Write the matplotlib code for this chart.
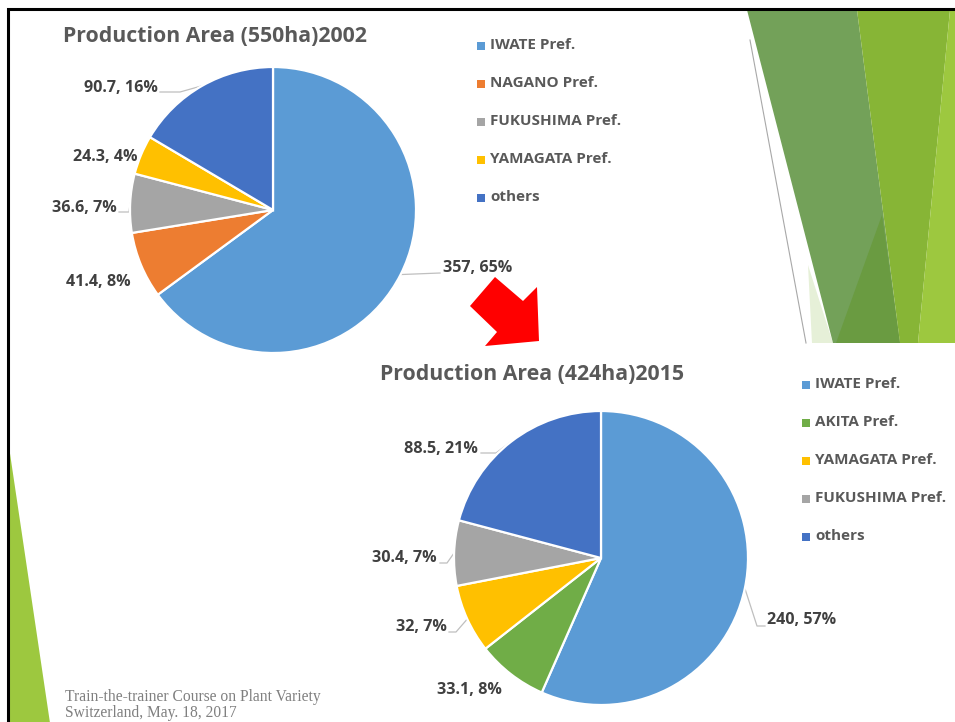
import numpy as np
import matplotlib
matplotlib.use("Agg")
import matplotlib.pyplot as plt
from matplotlib.patches import Polygon

# ---------------- data ----------------
title_2002 = "Production Area (550ha)2002"
cats_2002 = ["IWATE Pref.", "NAGANO Pref.", "FUKUSHIMA Pref.", "YAMAGATA Pref.", "others"]
vals_2002 = [357, 41.4, 36.6, 24.3, 90.7]
pcts_2002 = ["65%", "8%", "7%", "4%", "16%"]

title_2015 = "Production Area (424ha)2015"
cats_2015 = ["IWATE Pref.", "AKITA Pref.", "YAMAGATA Pref.", "FUKUSHIMA Pref.", "others"]
vals_2015 = [240, 33.1, 32, 30.4, 88.5]
pcts_2015 = ["57%", "8%", "7%", "7%", "21%"]

footer_lines = ["Train-the-trainer Course on Plant Variety", "Switzerland, May. 18, 2017"]

# ---------------- styles ----------------
COL = {"IWATE Pref.": "#5B9BD5", "NAGANO Pref.": "#ED7D31", "FUKUSHIMA Pref.": "#A5A5A5",
       "YAMAGATA Pref.": "#FFC000", "others": "#4472C4", "AKITA Pref.": "#70AD47"}
FONT = "Open Sans"
W, H = 955, 722

fig = plt.figure(figsize=(W / 100, H / 100), dpi=100)
fig.patch.set_facecolor("white")

bg = fig.add_axes([0, 0, 1, 1], zorder=0)
bg.set_xlim(0, W)
bg.set_ylim(H, 0)
bg.axis("off")

# ---- decorative shapes (slide theme) ----
deco = [
    ([(808, 265), (833, 343), (812, 343)], "#E6F0D8"),
    ([(747, 10), (857, 10), (900, 343), (833, 343)], "#73A159"),
    ([(882, 215), (900, 343), (836, 343)], "#6A9B41"),
    ([(857, 10), (950, 10), (918, 343), (900, 343)], "#87B536"),
    ([(950, 10), (956, 10), (956, 343), (918, 343)], "#9DC83F"),
    ([(8, 440), (8, 723), (50, 723)], "#9DC83F"),
]
for pts, c in deco:
    bg.add_patch(Polygon(pts, closed=True, facecolor=c, edgecolor="none"))
bg.plot([750, 806], [40, 343], color="#A8A8A8", lw=0.8)

# frame
bg.plot([8, 8, 956], [723, 9, 9], color="black", lw=2.2, solid_joinstyle="miter")

# red arrow
arrow = [(470, 306), (495, 277), (523, 301), (537, 287), (539, 341), (485, 346), (497, 332)]
bg.add_patch(Polygon(arrow, closed=True, facecolor="#FF0000", edgecolor="none"))

# footer
for i, line in enumerate(footer_lines):
    bg.text(65, 697 + i * 16, line, family="Liberation Serif", fontsize=11.2,
            color="#7F7F7F", va="center", ha="left")


def draw_pie(cats, vals, pcts, title, cx, cy, r, title_xy, leg_xy, labels_layout):
    ax = fig.add_axes([(cx - r) / W, (H - cy - r) / H, 2 * r / W, 2 * r / H], zorder=1)
    wedges, _ = ax.pie(vals, colors=[COL[c] for c in cats], startangle=90, counterclock=False,
                       radius=1, wedgeprops=dict(edgecolor="white", linewidth=1.6))
    ax.set_xlim(-1, 1)
    ax.set_ylim(-1, 1)
    ax.patch.set_visible(False)

    bg.text(title_xy[0], title_xy[1], title, family=FONT, fontweight="bold", fontsize=15.3,
            color="#595959", ha="left", va="center")

    # legend
    for i, c in enumerate(cats):
        y = leg_xy[1] + i * 38
        bg.scatter([leg_xy[0]], [y + 1], marker="s", s=26, color=COL[c], linewidths=0)
        bg.text(leg_xy[0] + 9, y, c, family=FONT, fontweight="bold", fontsize=11,
                color="#595959", ha="left", va="center")

    # data labels
    for w, v, p, lay in zip(wedges, vals, pcts, labels_layout):
        tx, ty, ha, leader = lay
        bg.text(tx, ty, f"{v:g}, {p}", family=FONT, fontweight="bold", fontsize=11.6,
                color="#404040", ha=ha, va="center")
        if leader is not None:
            mid = np.deg2rad((w.theta1 + w.theta2) / 2)
            sx, sy = cx + r * np.cos(mid), cy - r * np.sin(mid)
            xs = [sx] + [pt[0] for pt in leader]
            ys = [sy] + [pt[1] for pt in leader]
            bg.plot(xs, ys, color="#BFBFBF", lw=0.9)


# layout for labels: (x, y, ha, leader bend points)
lay_2002 = [
    (443, 268, "left", [(440, 273)]),
    (131, 282, "right", None),
    (117, 208, "right", [(129, 212), (119, 212)]),
    (137, 157, "right", None),
    (158, 88, "right", [(180, 92), (160, 92)]),
]
lay_2015 = [
    (767, 620, "left", [(757, 626), (765, 626)]),
    (502, 690, "right", None),
    (447, 627, "right", [(456, 632), (449, 632)]),
    (437, 558, "right", [(447, 563), (440, 563)]),
    (478, 449, "right", [(496, 453), (481, 453)]),
]

draw_pie(cats_2002, vals_2002, pcts_2002, title_2002, 273, 210, 143, (63, 37), (481, 45), lay_2002)
draw_pie(cats_2015, vals_2015, pcts_2015, title_2015, 601, 558, 147, (380, 375), (806, 384), lay_2015)

fig.savefig("out.png", dpi=100, facecolor="white")
